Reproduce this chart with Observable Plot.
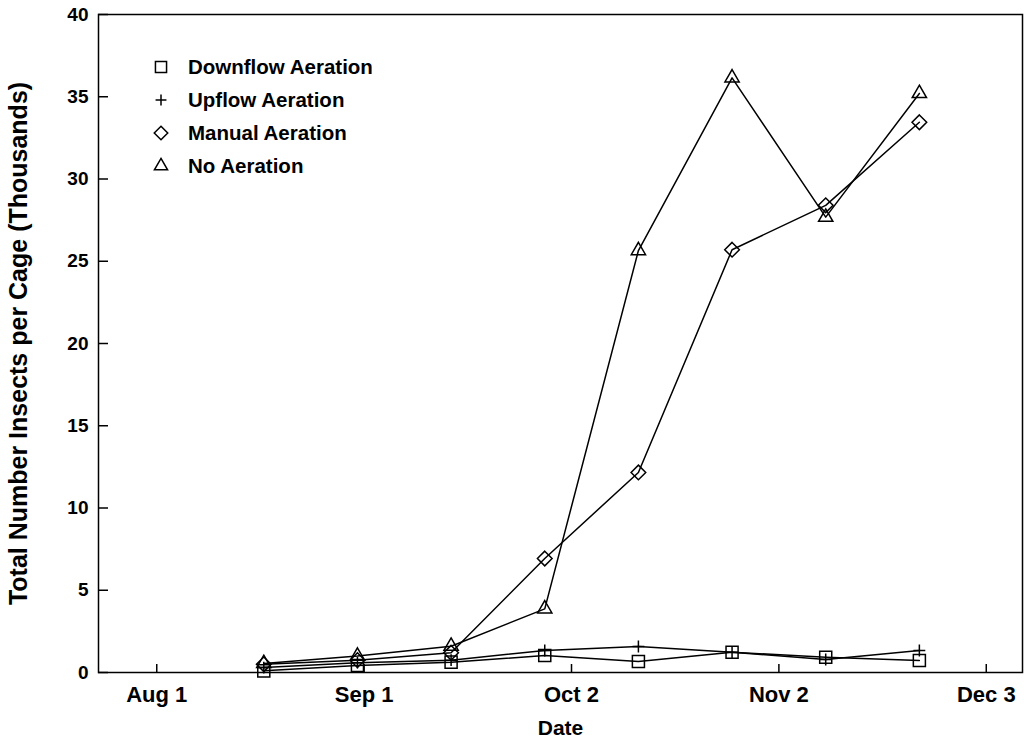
<!DOCTYPE html>
<html>
<head>
<meta charset="utf-8">
<script src="https://cdn.jsdelivr.net/npm/d3@7"></script>
<script src="https://cdn.jsdelivr.net/npm/@observablehq/plot@0.6"></script>
<style>
  html, body { margin: 0; padding: 0; background: #fff; }
  #wrap { position: relative; width: 1032px; height: 740px; font-family: "Liberation Sans", Arial, sans-serif; }
  #legend { position: absolute; left: 150px; top: 50px; font-weight: bold; font-size: 20.5px; color: #000; }
  #legend .row { display: flex; align-items: center; height: 33px; }
  #legend svg { width: 22px; height: 22px; margin-right: 16px; overflow: visible; }
</style>
</head>
<body>
<div id="wrap"><div id="legend"></div></div>
<script>
// ---- data ----
const dates = ["2001-08-17","2001-08-31","2001-09-14","2001-09-28","2001-10-12","2001-10-26","2001-11-09","2001-11-23"];
const seriesNames = ["Downflow Aeration","Upflow Aeration","Manual Aeration","No Aeration"];
const downflow = [0.10, 0.42, 0.63, 1.03, 0.67, 1.23, 0.93, 0.73];
const upflow   = [0.30, 0.60, 0.75, 1.34, 1.58, 1.23, 0.79, 1.34];
const manual   = [0.50, 0.75, 1.20, 6.93, 12.16, 25.70, 28.40, 33.45];
const noAer    = [0.55, 1.00, 1.60, 3.87, 25.65, 36.15, 27.68, 35.20];
const xTickDates  = ["2001-08-01","2001-09-01","2001-10-02","2001-11-02","2001-12-03"];
const xTickLabels = ["Aug 1","Sep 1","Oct 2","Nov 2","Dec 3"];
const yTicks = [0, 5, 10, 15, 20, 25, 30, 35, 40];
const xDomain = ["2001-07-23T07:00Z", "2001-12-08T10:00Z"];
const yDomain = [0, 40];

// ---- build ----
const valuesBySeries = [downflow, upflow, manual, noAer];
const symbols = ["square", "plus", "diamond2", "triangle"];
const radii = [6.8, 3.9, 6.6, 5.3];
const parse = s => new Date(s.length === 10 ? s + "T00:00Z" : s);
const rows = [];
seriesNames.forEach((name, si) => {
  valuesBySeries[si].forEach((v, i) => rows.push({series: name, si, date: parse(dates[i]), value: v}));
});
const tickDates = xTickDates.map(parse);
const fmt = d => xTickLabels[tickDates.findIndex(t => +t === +d)];

const font = {fontFamily: "Liberation Sans, Arial, sans-serif", fontWeight: "bold"};

const marks = [
  Plot.frame({stroke: "#000", strokeWidth: 1.5}),
  Plot.axisY({ticks: yTicks, tickSize: -10, text: null, label: null, strokeWidth: 1.5}),
  Plot.axisY({ticks: yTicks, tickSize: 0, tickPadding: 10, fontSize: 19, ...font, label: null}),
  Plot.axisY({ticks: [], tickSize: 0, fontSize: 25, ...font,
    label: "Total Number Insects per Cage (Thousands)", labelAnchor: "center", labelArrow: "none", labelOffset: 89}),
  Plot.axisX({ticks: tickDates, tickSize: -8, text: null, label: null, strokeWidth: 1.5}),
  Plot.axisX({ticks: tickDates, tickSize: 0, tickPadding: 14, tickFormat: fmt, fontSize: 22, ...font, label: null}),
  Plot.axisX({ticks: [], tickSize: 0, fontSize: 21, ...font,
    label: "Date", labelAnchor: "center", labelArrow: "none", labelOffset: 62}),
];
seriesNames.forEach((name, si) => {
  const data = rows.filter(r => r.si === si);
  marks.push(Plot.line(data, {x: "date", y: "value", stroke: "#000", strokeWidth: 1.5}));
  marks.push(Plot.dot(data, {x: "date", y: "value", symbol: () => symbols[si], r: radii[si],
    stroke: "#000", strokeWidth: 1.5, fill: "none"}));
});

const chart = Plot.plot({
  width: 1032, height: 740,
  marginLeft: 98, marginRight: 10, marginTop: 14, marginBottom: 68,
  style: {fontFamily: "Liberation Sans, Arial, sans-serif", fontSize: "17px", fontWeight: "bold", color: "#000", background: "#fff", overflow: "visible"},
  x: {type: "utc", domain: xDomain.map(parse)},
  y: {domain: yDomain},
  symbol: {type: "identity"},
  marks
});
document.getElementById("wrap").prepend(chart);

// legend
const legend = document.getElementById("legend");
const d3sym = {square: d3.symbolSquare, plus: d3.symbolPlus, diamond2: d3.symbolDiamond2, triangle: d3.symbolTriangle};
seriesNames.forEach((name, si) => {
  const row = document.createElement("div");
  row.className = "row";
  const size = Math.PI * radii[si] * radii[si] * 0.85;
  const path = d3.symbol(d3sym[symbols[si]], size)();
  row.innerHTML = `<svg viewBox="-11 -11 22 22"><path d="${path}" fill="none" stroke="#000" stroke-width="1.5"/></svg><span>${name}</span>`;
  legend.appendChild(row);
});
</script>
</body>
</html>
